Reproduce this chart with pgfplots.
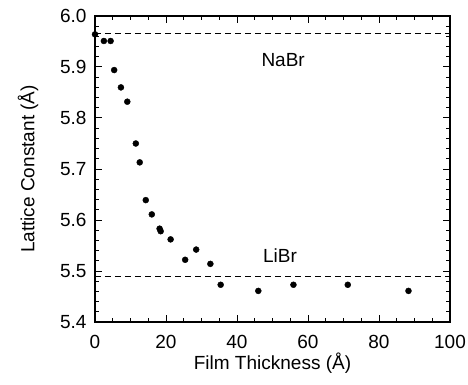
\documentclass[border=0pt]{standalone}
\usepackage{pgfplots}
\pgfplotsset{compat=1.18}
\usepackage{fontspec}
\setmainfont{Liberation Sans}
\begin{document}
\begin{tikzpicture}
\begin{axis}[
  scale only axis,
  width=355pt, height=306pt,
  xmin=0, xmax=100, ymin=5.4, ymax=6.0,
  xtick={0,20,...,100},
  ytick={5.4,5.5,...,6.0},
  minor x tick num=3,
  minor y tick num=4,
  tick align=inside,
  major tick length=7pt,
  minor tick length=4pt,
  axis line style={line width=1.2pt},
  every tick/.style={line width=1pt, black},
  tick pos=both,
  /pgf/number format/assume math mode=true,
  yticklabel style={/pgf/number format/fixed, /pgf/number format/fixed zerofill, /pgf/number format/precision=1, xshift=-5pt},
  ticklabel style={font=\fontsize{19}{22}\selectfont},
  xticklabel style={yshift=-10pt},
  label style={font=\fontsize{19}{22}\selectfont},
  xlabel={Film Thickness (Å)},
  ylabel={Lattice Constant (Å)},
  xlabel style={yshift=3pt},
  ylabel style={yshift=15pt},
]
\addplot[only marks, mark=*, mark size=3pt, black] coordinates {
(0,5.964) (2.5,5.951) (4.4,5.951) (5.4,5.894) (7.3,5.860) (9.1,5.832)
(11.5,5.750) (12.6,5.713) (14.3,5.639) (16.0,5.611) (18.2,5.583) (18.5,5.578)
(21.3,5.562) (25.4,5.522) (28.5,5.542) (32.5,5.514) (35.4,5.473)
(46.0,5.461) (55.9,5.473) (71.2,5.473) (88.3,5.461)
};
\addplot[black, dashed, line width=0.9pt, dash pattern=on 6pt off 4pt] coordinates {(0,5.966) (100,5.966)};
\addplot[black, dashed, line width=0.9pt, dash pattern=on 6pt off 4pt] coordinates {(0,5.490) (100,5.490)};
\node[font=\fontsize{19}{22}\selectfont] at (axis cs:53.0,5.914) {NaBr};
\node[font=\fontsize{19}{22}\selectfont] at (axis cs:52.1,5.531) {LiBr};
\end{axis}
\pgfresetboundingbox
\path (current axis.south west) ++(-95pt,-63pt) coordinate (bl);
\path (current axis.north east) ++(18pt,16pt) coordinate (tr);
\useasboundingbox (bl) rectangle (tr);
\end{tikzpicture}
\end{document}
